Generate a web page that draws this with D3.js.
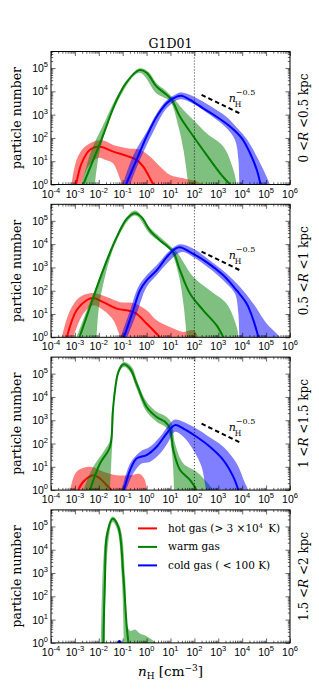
<!DOCTYPE html>
<html>
<head>
<meta charset="utf-8">
<script src="https://cdn.jsdelivr.net/npm/d3@7"></script>
<style>
  body { margin: 0; background: #fff; }
  svg text { font-family: "DejaVu Serif", serif; fill: #000; }
  .tick-label { font-family: "Liberation Sans", sans-serif; font-size: 10.5px; }
</style>
</head>
<body>
<svg id="chart"></svg>
<script>
// axis ticks (exponents of 10)
const xTickExp = [-4, -3, -2, -1, 0, 1, 2, 3, 4, 5, 6];
const yTickExp = [0, 1, 2, 3, 4, 5];
const rangeLow = ['0', '0.5', '1', '1.5'];
const rangeHigh = ['0.5', '1', '1.5', '2'];
const seriesNames = ['hot', 'warm', 'cold'];
const seriesColors = ['#ff0000', '#008000', '#0000ff'];
const densityCut = 100;

// n_H^-0.5 guide: log10 n_H at both ends, log10 count per panel
const guideLogN = [2.3, 3.9];
const guideStart = [3.85, 3.68, 2.85];
const guideEnd = [3.05, 2.88, 2.05];

// all curves: [log10 n_H, log10 particle number]
// panel 1 : 0 < R < 0.5 kpc
const p1HotMed = [[-2.95,0],[-2.72,0.91],[-2.37,1.49],[-2.02,1.63],[-1.81,1.59],[-1.39,1.41],[-0.83,1.23],[-0.42,1.06],[-0.14,0.77],[0.14,0.27],[0.28,0]];
const p1HotHi = [[-3.14,0],[-2.93,1.06],[-2.65,1.56],[-2.23,1.84],[-1.81,1.89],[-1.39,1.7],[-0.83,1.56],[-0.28,1.49],[0.14,1.2],[0.56,0.77],[0.98,0.41],[1.54,0.27],[1.82,0.2],[2.1,0.13],[2.37,0]];
const p1HotLo = [[-2.72,0],[-2.44,0.77],[-2.0,1.15],[-1.7,1.05],[-1.4,0.9],[-1.04,0]];
const p1WarmMed = [[-2.65,0],[-1.95,1.77],[-1.25,3.63],[-0.83,4.41],[-0.3,4.91],[0.0,4.8],[0.42,4.2],[0.77,3.91],[1.05,3.63],[1.4,2.91],[1.96,2.06],[2.51,1.27],[3.07,0.49],[3.49,0]];
const p1WarmHi = [[-2.72,0],[-2.3,1.49],[-1.81,2.56],[-1.25,3.77],[-0.69,4.63],[-0.3,4.99],[0.07,4.84],[0.42,4.34],[0.77,4.06],[1.12,3.7],[1.54,3.2],[1.96,2.77],[2.51,2.2],[3.21,1.63],[3.63,0.63],[3.77,0]];
const p1WarmLo = [[-2.16,0],[-1.95,1.49],[-1.25,3.49],[-0.3,4.8],[0.42,3.91],[0.98,3.56],[1.33,2.49],[1.54,1.49],[1.75,0]];
const p1ColdMed = [[-0.86,0],[-0.42,1.06],[0.0,2.06],[0.42,2.91],[0.84,3.49],[1.26,3.77],[1.47,3.81],[1.82,3.63],[2.37,3.27],[2.93,2.91],[3.49,2.49],[3.98,1.99],[4.33,1.34],[4.61,0.63],[4.77,0]];
const p1ColdHi = [[-1.0,0],[-0.56,1.25],[0.0,2.25],[0.42,3.05],[0.84,3.62],[1.26,3.9],[1.47,3.95],[1.96,3.78],[2.65,3.38],[3.35,2.9],[3.77,2.45],[4.19,1.95],[4.61,1.2],[4.95,0.49],[5.16,0]];
const p1ColdLo = [[-0.69,0],[-0.28,1.06],[0.28,2.27],[0.84,3.27],[1.4,3.66],[1.96,3.46],[2.65,2.99],[3.35,2.41],[3.7,1.91],[3.84,1.06],[3.88,0]];

// panel 2 : 0.5 < R < 1 kpc
const p2HotMed = [[-3.34,0],[-2.93,1.16],[-2.51,1.59],[-2.23,1.69],[-1.81,1.51],[-1.25,1.23],[-0.69,1.13],[-0.42,1.01],[0.0,0.59],[0.35,0.23],[0.56,0]];
const p2HotHi = [[-3.55,0],[-3.2,1.16],[-2.79,1.73],[-2.23,1.9],[-1.67,1.73],[-1.11,1.51],[-0.56,1.47],[0.0,1.16],[0.42,0.73],[0.98,0.44],[1.54,0.23],[1.96,0.3],[2.16,0]];
const p2HotLo = [[-3.07,0],[-2.65,1.01],[-2.23,1.37],[-1.81,1.16],[-1.39,0.73],[-1.11,0]];
const p2WarmMed = [[-2.81,0],[-2.37,1.3],[-1.81,2.91],[-1.25,4.3],[-0.83,5.09],[-0.49,5.33],[-0.21,5.16],[0.14,4.59],[0.56,4.16],[0.91,3.87],[1.12,3.66],[1.4,2.87],[1.82,1.87],[2.37,1.16],[2.93,0.51],[3.21,0]];
const p2WarmHi = [[-2.93,0],[-2.23,1.87],[-1.25,4.37],[-0.49,5.44],[0.14,4.7],[0.91,3.99],[1.26,3.66],[1.96,2.59],[2.65,2.01],[3.35,1.44],[3.77,0.44],[3.84,0]];
const p2WarmLo = [[-2.09,0],[-1.95,1.59],[-1.25,4.16],[-0.49,5.23],[0.14,4.44],[0.98,3.73],[1.33,2.73],[1.54,1.44],[1.68,0]];
const p2ColdMed = [[-0.95,0],[-0.56,1.16],[-0.28,2.01],[0.0,2.44],[0.42,2.87],[0.84,3.44],[1.19,3.8],[1.4,3.87],[1.82,3.66],[2.51,3.23],[3.21,2.66],[3.77,2.01],[4.19,1.44],[4.47,0.73],[4.68,0]];
const p2ColdHi = [[-1.09,0],[-0.69,1.16],[-0.35,2.16],[0.0,2.66],[0.42,3.09],[0.91,3.66],[1.4,3.99],[1.96,3.8],[2.65,3.3],[3.35,2.73],[3.91,2.16],[4.47,1.44],[5.02,0.59],[5.44,0.16],[5.58,0]];
const p2ColdLo = [[-0.81,0],[-0.42,1.01],[0.0,2.16],[0.42,2.66],[0.91,3.23],[1.47,3.66],[1.96,3.44],[2.65,2.94],[3.35,2.3],[3.7,1.87],[3.84,1.01],[3.88,0]];

// panel 3 : 1 < R < 1.5 kpc
const p3HotMed = [[-2.86,0],[-2.65,0.36],[-2.23,0.64],[-1.95,0.5],[-1.67,0.21],[-1.46,0]];
const p3HotHi = [[-3.2,0],[-2.93,0.79],[-2.37,1.0],[-1.81,0.79],[-1.25,0.64],[-0.69,0.64],[-0.28,0.69],[-0.07,0.43],[0.0,0]];
const p3HotLo = [];
const p3WarmMed = [[-2.37,0],[-1.95,1.14],[-1.53,1.86],[-1.42,3.3],[-1.32,4.29],[-1.18,5.07],[-0.97,5.4],[-0.69,5.21],[-0.42,4.57],[0.0,3.57],[0.42,3.14],[0.77,2.93],[0.98,2.64],[1.12,1.71],[1.4,0.86],[1.82,0.43],[2.09,0]];
const p3WarmHi = [[-2.65,0],[-2.23,1.0],[-1.81,1.64],[-1.53,2.14],[-1.36,4.29],[-1.18,5.21],[-0.95,5.5],[-0.62,5.29],[-0.35,4.57],[0.0,3.79],[0.42,3.36],[0.84,3.14],[1.05,2.86],[1.19,2.0],[1.54,1.14],[2.09,0.79],[2.51,0.36],[2.79,0]];
const p3WarmLo = [[-1.53,0],[-1.39,2.86],[-1.25,4.86],[-0.95,5.29],[-0.69,5.07],[-0.42,4.36],[0.0,3.36],[0.42,2.93],[0.84,2.64],[1.05,1.71],[1.15,0]];
const p3ColdMed = [[-0.95,0],[-0.69,0.86],[-0.42,1.36],[0.0,1.5],[0.42,1.86],[0.84,2.43],[1.19,2.79],[1.54,2.64],[2.09,2.29],[2.65,1.86],[3.21,1.29],[3.63,0.57],[3.84,0]];
const p3ColdHi = [[-1.04,0],[-0.69,1.14],[-0.28,1.64],[0.14,1.86],[0.56,2.29],[0.98,2.86],[1.19,3.03],[1.82,2.79],[2.51,2.36],[3.21,1.86],[3.77,1.14],[4.12,0.29],[4.26,0]];
const p3ColdLo = [[-0.86,0],[-0.56,0.71],[-0.21,1.14],[0.14,1.21],[0.56,1.57],[0.91,2.07],[1.19,2.5],[1.54,2.29],[1.96,1.71],[2.3,1.0],[2.44,0.29],[2.49,0]];

// panel 4 : 1.5 < R < 2 kpc
const p4HotMed = [];
const p4HotHi = [];
const p4HotLo = [];
const p4WarmMed = [[-1.81,0],[-1.74,2.83],[-1.67,4.54],[-1.42,5.33],[-1.18,4.97],[-0.97,2.83],[-0.83,0.69],[-0.76,0]];
const p4WarmHi = [[-1.91,0],[-1.81,3.54],[-1.67,4.83],[-1.42,5.43],[-1.11,4.97],[-0.9,2.83],[-0.8,0.69],[-0.67,0.51],[-0.49,0.57],[-0.28,0.4],[0.0,0.29],[0.28,0.09],[0.39,0]];
const p4WarmLo = [[-1.74,0],[-1.67,3.54],[-1.42,5.19],[-1.22,4.83],[-1.04,2.83],[-0.95,0]];
const p4ColdMed = [[-1.2,0],[-1.14,0.08],[-1.08,0]];
const p4ColdHi = [[-1.22,0],[-1.14,0.1],[-1.06,0]];
const p4ColdLo = [];

const panels = [
  { hot: [p1HotMed, p1HotLo, p1HotHi], warm: [p1WarmMed, p1WarmLo, p1WarmHi], cold: [p1ColdMed, p1ColdLo, p1ColdHi] },
  { hot: [p2HotMed, p2HotLo, p2HotHi], warm: [p2WarmMed, p2WarmLo, p2WarmHi], cold: [p2ColdMed, p2ColdLo, p2ColdHi] },
  { hot: [p3HotMed, p3HotLo, p3HotHi], warm: [p3WarmMed, p3WarmLo, p3WarmHi], cold: [p3ColdMed, p3ColdLo, p3ColdHi] },
  { hot: [p4HotMed, p4HotLo, p4HotHi], warm: [p4WarmMed, p4WarmLo, p4WarmHi], cold: [p4ColdMed, p4ColdLo, p4ColdHi] }
];

const W = 319, H = 695;
const layout = { left: 51, width: 239, top: 51.5, height: 133, step: 152.8 };
const yMaxExp = 5.71;

const svg = d3.select('#chart').attr('width', W).attr('height', H);

const x = d3.scaleLog()
  .domain([1e-4, 1e6])
  .range([layout.left, layout.left + layout.width]);

const xMinor = [];
xTickExp.slice(0, -1).forEach(k => d3.range(2, 10).forEach(m => xMinor.push(m * 10 ** k)));
const yMinor = [];
yTickExp.forEach(k => d3.range(2, 10).forEach(m => { if (m * 10 ** k < 10 ** yMaxExp) yMinor.push(m * 10 ** k); }));

// title
svg.append('text')
  .attr('x', layout.left + layout.width / 2)
  .attr('y', 48)
  .attr('text-anchor', 'middle')
  .attr('font-size', 12.5)
  .text('G1D01');

panels.forEach((panel, i) => {
  const top = layout.top + i * layout.step;
  const bottom = top + layout.height;
  const y = d3.scaleLog()
    .domain([1, 10 ** yMaxExp])
    .range([bottom, top]);

  const g = svg.append('g').attr('class', 'panel');

  g.append('clipPath').attr('id', `clip${i}`)
    .append('rect')
      .attr('x', layout.left).attr('y', top)
      .attr('width', layout.width).attr('height', layout.height);

  const plot = g.append('g').attr('clip-path', `url(#clip${i})`);

  const line = d3.line()
    .x(d => x(10 ** d[0]))
    .y(d => y(10 ** d[1]))
    .curve(d3.curveCatmullRom.alpha(0.5));

  // closed band: upper envelope forward, lower envelope back, joined below the axis
  const band = (lo, hi) => {
    const base = bottom + 6;
    let p = line(hi) + `L${x(10 ** hi[hi.length - 1][0])},${base}`;
    if (lo.length) {
      const rev = lo.slice().reverse();
      p += `L${x(10 ** rev[0][0])},${base}` + line(rev).replace(/^M/, 'L');
      p += `L${x(10 ** rev[rev.length - 1][0])},${base}`;
    }
    return p + `L${x(10 ** hi[0][0])},${base}Z`;
  };

  seriesNames.forEach((name, j) => {
    const [med, lo, hi] = panel[name];
    if (hi.length) {
      plot.append('path')
        .attr('d', band(lo, hi))
        .attr('fill', seriesColors[j])
        .attr('fill-opacity', 0.5)
        .attr('stroke', 'none');
    }
    if (med.length) {
      plot.append('path')
        .attr('d', line(med))
        .attr('fill', 'none')
        .attr('stroke', seriesColors[j])
        .attr('stroke-width', 2);
    }
  });

  // dotted density threshold and n_H^-0.5 guide
  if (i < 3) {
    g.append('line')
      .attr('x1', x(densityCut)).attr('x2', x(densityCut))
      .attr('y1', top).attr('y2', bottom)
      .attr('stroke', '#000').attr('stroke-width', 0.8)
      .attr('stroke-dasharray', '1,2');

    const gx0 = x(10 ** guideLogN[0]), gx1 = x(10 ** guideLogN[1]);
    const gy0 = y(10 ** guideStart[i]), gy1 = y(10 ** guideEnd[i]);
    g.append('line')
      .attr('x1', gx0).attr('y1', gy0).attr('x2', gx1).attr('y2', gy1)
      .attr('stroke', '#000').attr('stroke-width', 2)
      .attr('stroke-dasharray', '4.5,3');

    const lx = gx1 - 11, ly = gy1 - 11;
    g.append('text').attr('x', lx).attr('y', ly)
      .attr('font-size', 11).attr('font-style', 'italic').text('n');
    g.append('text').attr('x', lx + 6).attr('y', ly + 5)
      .attr('font-size', 7.5).text('H');
    g.append('text').attr('x', lx + 7).attr('y', ly - 7)
      .attr('font-size', 8).text('\u22120.5');
  }

  // ticks, pointing inward on all four sides
  const axes = [
    [d3.axisBottom(x), `translate(0,${bottom})`, xTickExp.map(k => 10 ** k), xMinor],
    [d3.axisTop(x), `translate(0,${top})`, xTickExp.map(k => 10 ** k), xMinor],
    [d3.axisLeft(y), `translate(${layout.left},0)`, yTickExp.map(k => 10 ** k), yMinor],
    [d3.axisRight(y), `translate(${layout.left + layout.width},0)`, yTickExp.map(k => 10 ** k), yMinor]
  ];
  axes.forEach(([axis, tr, major, minor]) => {
    [[major, 4.5], [minor, 2.2]].forEach(([vals, len]) => {
      const a = g.append('g').attr('transform', tr)
        .call(axis.tickValues(vals).tickSize(-len).tickFormat(''));
      a.select('.domain').remove();
      a.selectAll('line').attr('stroke', '#000').attr('stroke-width', 0.6);
    });
  });

  g.append('rect')
    .attr('x', layout.left).attr('y', top)
    .attr('width', layout.width).attr('height', layout.height)
    .attr('fill', 'none').attr('stroke', '#000').attr('stroke-width', 1);

  // tick labels
  xTickExp.forEach(k => {
    const t = g.append('text').attr('class', 'tick-label')
      .attr('x', x(10 ** k)).attr('y', bottom + 13)
      .attr('text-anchor', 'middle');
    t.append('tspan').text('10');
    t.append('tspan').attr('dy', -5).attr('font-size', 7.5).text(k < 0 ? '-' + (-k) : k);
  });
  yTickExp.forEach(k => {
    const t = g.append('text').attr('class', 'tick-label')
      .attr('x', layout.left - 3).attr('y', y(10 ** k) + 4)
      .attr('text-anchor', 'end');
    t.append('tspan').text('10');
    t.append('tspan').attr('dy', -5).attr('font-size', 7.5).text(k);
  });

  // axis label and radial range
  const cy = (top + bottom) / 2;
  g.append('text')
    .attr('transform', `translate(21,${cy}) rotate(-90)`)
    .attr('text-anchor', 'middle')
    .attr('font-size', 12.5)
    .text('particle number');

  const r = g.append('text')
    .attr('transform', `translate(307.5,${cy}) rotate(-90)`)
    .attr('text-anchor', 'middle')
    .attr('font-size', 12);
  r.append('tspan').text(`${rangeLow[i]} <`);
  r.append('tspan').attr('font-style', 'italic').text('R');
  r.append('tspan').text(` <${rangeHigh[i]} kpc`);

  // legend in the last panel
  if (i === 3) {
    const legendLabels = [
      ['hot gas (> 3 \u00d710', '4', '\u2002K)'],
      ['warm gas', '', ''],
      ['cold gas ( < 100 K)', '', '']
    ];
    legendLabels.forEach((lab, j) => {
      const ly = top + 18.5 + j * 18.5;
      g.append('line')
        .attr('x1', 138).attr('x2', 157).attr('y1', ly).attr('y2', ly)
        .attr('stroke', seriesColors[j]).attr('stroke-width', 2);
      const t = g.append('text').attr('x', 168).attr('y', ly + 3.5).attr('font-size', 10.5);
      t.append('tspan').text(lab[0]);
      if (lab[1]) {
        t.append('tspan').attr('dy', -4).attr('font-size', 6.5).text(lab[1]);
        t.append('tspan').attr('dy', 4).text(lab[2]);
      }
    });
  }
});

// x axis label
const xl = svg.append('text')
  .attr('x', layout.left + layout.width / 2)
  .attr('y', 676)
  .attr('text-anchor', 'middle')
  .attr('font-size', 13.5);
xl.append('tspan').attr('font-style', 'italic').text('n');
xl.append('tspan').attr('dy', 3).attr('font-size', 9).text('H');
xl.append('tspan').attr('dy', -3).text(' [cm');
xl.append('tspan').attr('dy', -5).attr('font-size', 9).text('\u22123');
xl.append('tspan').attr('dy', 5).text(']');
</script>
</body>
</html>
